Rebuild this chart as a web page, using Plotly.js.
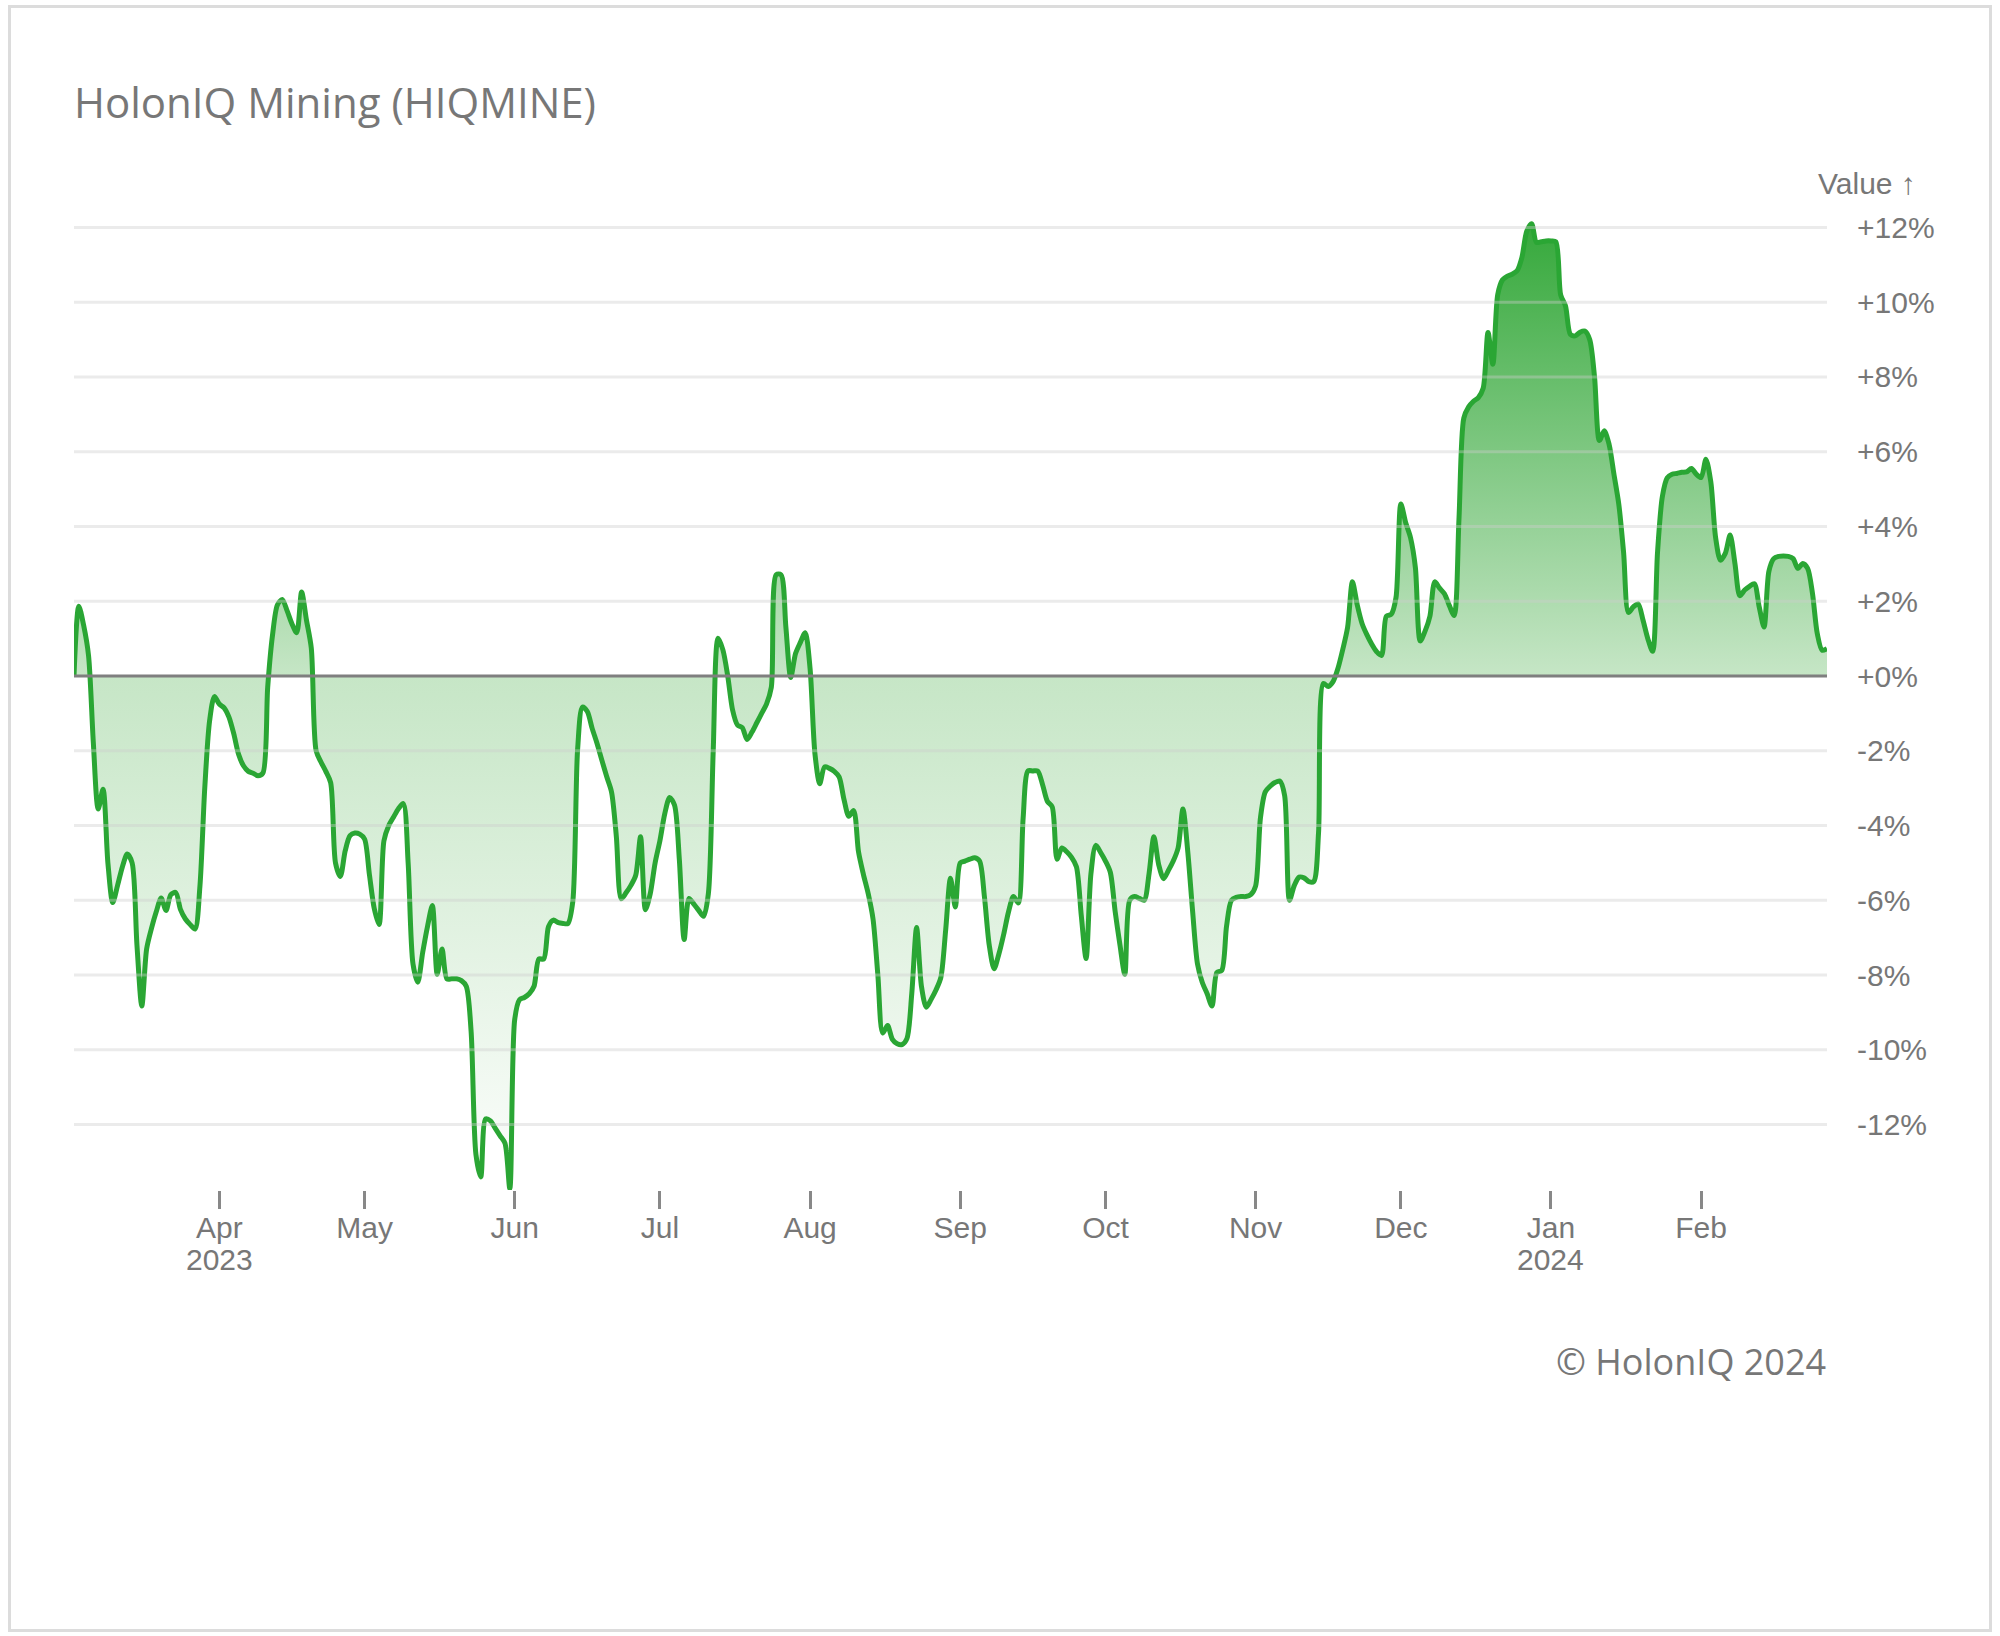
<!DOCTYPE html>
<html>
<head>
<meta charset="utf-8">
<script src="https://cdn.plot.ly/plotly-3.0.1.min.js"></script>
<style>
  html, body { margin: 0; padding: 0; background: #ffffff; }
  #wrap { position: relative; width: 2000px; height: 1636px; }
  #frame { position: absolute; left: 8px; top: 5px; width: 1978px; height: 1621px; border: 3px solid #dcdcdc; pointer-events: none; z-index: 2; }
  #chart { position: absolute; left: 0; top: 0; width: 2000px; height: 1636px; }
</style>
</head>
<body>
<div id="wrap">
  <div id="chart"></div>
  <div id="frame"></div>
</div>
<script>
// ---- Data (daily values, % change), first value is 2 Mar 2023 ----
const startDate = '2023-03-02';
const valuesMar23 = [0.0, 1.87, 1.35, 0.55, -1.8, -3.56, -3.03, -5.0, -6.06, -5.6,
  -5.1, -4.76, -5.0, -7.2, -8.83, -7.3, -6.75, -6.3, -5.94, -6.27,
  -5.85, -5.79, -6.25, -6.5, -6.65, -6.77, -5.63, -3.0, -1.2, -0.55];
const valuesApr23 = [-0.75, -0.85, -1.1, -1.55, -2.1, -2.4, -2.55, -2.6, -2.67, -2.6,
  -0.3, 1.1, 1.9, 2.05, 1.75, 1.4, 1.16, 2.25, 1.5, 0.75,
  -2.0, -2.3, -2.55, -2.85, -5.0, -5.36, -4.68, -4.27, -4.2, -4.23];
const valuesMay23 = [-4.36, -5.31, -6.22, -6.65, -4.41, -4.0, -3.77, -3.55, -3.41, -5.0,
  -7.7, -8.19, -7.4, -6.7, -6.14, -7.98, -7.3, -8.1, -8.1, -8.1,
  -8.15, -8.3, -9.5, -12.8, -13.4, -11.85, -11.9, -12.1, -12.3, -12.5, -13.71];
const valuesJun23 = [-9.2, -8.66, -8.6, -8.5, -8.3, -7.57, -7.57, -6.7, -6.53, -6.6,
  -6.62, -6.62, -6.04, -1.96, -0.83, -0.95, -1.4, -1.8, -2.25, -2.69,
  -3.1, -4.3, -5.96, -5.8, -5.6, -5.33, -4.3, -6.25, -5.82, -5.0];
const valuesJul23 = [-4.4, -3.68, -3.25, -3.45, -4.9, -7.05, -5.95, -6.1, -6.27, -6.43,
  -5.82, -2.0, 1.01, 0.7, 0.0, -0.91, -1.31, -1.38, -1.7, -1.5,
  -1.25, -1.0, -0.75, -0.3, 2.71, 2.71, 1.32, -0.04, 0.6, 0.9, 1.16];
const valuesAug23 = [0.2, -2.07, -2.88, -2.43, -2.47, -2.55, -2.7, -3.3, -3.75, -3.6,
  -4.7, -5.3, -5.82, -6.5, -8.0, -9.55, -9.35, -9.72, -9.84, -9.86,
  -9.7, -8.5, -6.73, -8.3, -8.86, -8.65, -8.4, -8.07, -6.8, -5.41, -6.18];
const valuesSep23 = [-5.0, -4.95, -4.9, -4.86, -4.95, -5.9, -7.2, -7.83, -7.43, -6.9,
  -6.3, -5.9, -6.07, -3.8, -2.54, -2.54, -2.54, -2.9, -3.35, -3.5,
  -4.9, -4.6, -4.7, -4.85, -5.1, -6.4, -7.56, -5.29, -4.53, -4.72];
const valuesOct23 = [-4.95, -5.25, -6.3, -7.2, -7.98, -6.0, -5.9, -5.95, -6.0, -5.29,
  -4.3, -5.05, -5.42, -5.2, -4.95, -4.6, -3.56, -4.7, -6.3, -7.7,
  -8.2, -8.5, -8.83, -7.93, -7.88, -6.7, -6.0, -5.92, -5.9, -5.9, -5.85];
const valuesNov23 = [-5.62, -3.8, -3.1, -2.95, -2.85, -2.81, -3.2, -6.0, -5.6, -5.38,
  -5.4, -5.5, -5.5, -4.2, -0.2, -0.28, -0.15, 0.2, 0.71, 1.3,
  2.52, 1.9, 1.4, 1.1, 0.85, 0.65, 0.55, 1.6, 1.65, 2.1];
const valuesDec23 = [4.6, 4.1, 3.7, 2.9, 0.94, 1.2, 1.6, 2.52, 2.35, 2.2,
  1.89, 1.62, 4.2, 6.9, 7.2, 7.35, 7.45, 7.7, 9.19, 8.34,
  10.2, 10.6, 10.7, 10.75, 10.84, 11.2, 11.9, 12.1, 11.6, 11.62, 11.64];
const valuesJan24 = [11.64, 11.62, 10.2, 9.9, 9.14, 9.1, 9.2, 9.23, 9.0, 7.99,
  6.3, 6.56, 6.2, 5.4, 4.6, 3.3, 1.7, 1.85, 1.93, 1.5,
  1.0, 0.66, 3.3, 4.8, 5.3, 5.4, 5.42, 5.45, 5.46, 5.55, 5.4];
const valuesFeb24 = [5.31, 5.8, 5.2, 3.7, 3.1, 3.28, 3.77, 3.0, 2.15, 2.3,
  2.4, 2.47, 1.85, 1.31, 2.8, 3.14, 3.2, 3.21, 3.2, 3.14,
  2.88, 3.01, 2.88, 2.21, 1.13, 0.69, 0.73];

const monthTickDates = ['2023-04-01','2023-05-01','2023-06-01','2023-07-01','2023-08-01','2023-09-01',
  '2023-10-01','2023-11-01','2023-12-01','2024-01-01','2024-02-01'];
const monthTickLabels = ['Apr','May','Jun','Jul','Aug','Sep','Oct','Nov','Dec','Jan','Feb'];
const yearTickDates = ['2023-04-01','2024-01-01'];
const yearTickLabels = ['2023','2024'];
const yTickValues = [-12,-10,-8,-6,-4,-2,0,2,4,6,8,10,12];
const yTickLabels = ['-12%','-10%','-8%','-6%','-4%','-2%','+0%','+2%','+4%','+6%','+8%','+10%','+12%'];

// ---- Build the series ----
const values = [].concat(valuesMar23, valuesApr23, valuesMay23, valuesJun23, valuesJul23,
  valuesAug23, valuesSep23, valuesOct23, valuesNov23, valuesDec23, valuesJan24, valuesFeb24);
const dates = values.map((_, i) => {
  const d = new Date(startDate + 'T00:00:00Z');
  d.setUTCDate(d.getUTCDate() + i);
  return d.toISOString().slice(0, 10);
});

const textColor = '#777777';
const sansFont = '"Liberation Sans", Arial, sans-serif';
const uiFont = '"Segoe UI", "Open Sans", "Noto Sans", sans-serif';

const yMin = -13.75, yMax = 12.2;

const trace = {
  type: 'scatter',
  mode: 'lines',
  x: dates,
  y: values,
  line: { color: '#2aa634', width: 5, shape: 'spline', smoothing: 0.8 },
  fill: 'tozeroy',
  fillgradient: {
    type: 'vertical',
    start: yMin,
    stop: yMax,
    colorscale: [[0, 'rgb(253,254,253)'], [0.53, 'rgb(198,230,198)'], [1, 'rgb(52,168,58)']]
  },
  hoverinfo: 'x+y'
};

const shapes = yTickValues.map(v => ({
  type: 'line', xref: 'paper', x0: 0, x1: 1, yref: 'y', y0: v, y1: v,
  line: { color: v === 0 ? '#7f7f7f' : 'rgba(205,205,205,0.4)', width: 3 },
  layer: 'above'
}));

const annotations = [
  { text: 'Value ↑', xref: 'paper', yref: 'paper', x: 1.0519, y: 1.0378,
    xanchor: 'right', yanchor: 'middle', showarrow: false,
    font: { family: sansFont, size: 30, color: textColor } },
  { text: '© HolonIQ 2024', xref: 'paper', yref: 'paper', x: 1.0006, y: -0.1765,
    xanchor: 'right', yanchor: 'middle', showarrow: false,
    font: { family: uiFont, size: 36, color: textColor } }
].concat(yearTickDates.map((d, i) => ({
  text: yearTickLabels[i], xref: 'x', yref: 'paper', x: d, y: -0.0718,
  xanchor: 'center', yanchor: 'middle', showarrow: false,
  font: { family: sansFont, size: 30, color: textColor }
})));

const layout = {
  width: 2000,
  height: 1636,
  paper_bgcolor: '#ffffff',
  plot_bgcolor: '#ffffff',
  margin: { l: 74, r: 173, t: 220, b: 446, pad: 0 },
  showlegend: false,
  title: {
    text: 'HolonIQ Mining (HIQMINE)',
    font: { family: uiFont, size: 42, color: textColor },
    x: 74 / 2000, xref: 'container', xanchor: 'left',
    y: 1 - 103 / 1636, yref: 'container', yanchor: 'middle'
  },
  xaxis: {
    type: 'date',
    range: [dates[0], dates[dates.length - 1]],
    tickvals: monthTickDates,
    ticktext: monthTickLabels,
    ticks: 'outside', ticklen: 18, tickwidth: 3, tickcolor: '#888888',
    ticklabelstandoff: -7,
    showgrid: false, zeroline: false, showline: false,
    tickfont: { family: sansFont, size: 30, color: textColor }
  },
  yaxis: {
    range: [yMin, yMax],
    side: 'right',
    tickvals: yTickValues,
    ticktext: yTickLabels,
    ticks: '',
    ticklabelstandoff: 29,
    showgrid: false, zeroline: false, showline: false,
    tickfont: { family: sansFont, size: 30, color: textColor }
  },
  shapes: shapes,
  annotations: annotations
};

Plotly.newPlot('chart', [trace], layout, { displayModeBar: false, responsive: false });
</script>
</body>
</html>
